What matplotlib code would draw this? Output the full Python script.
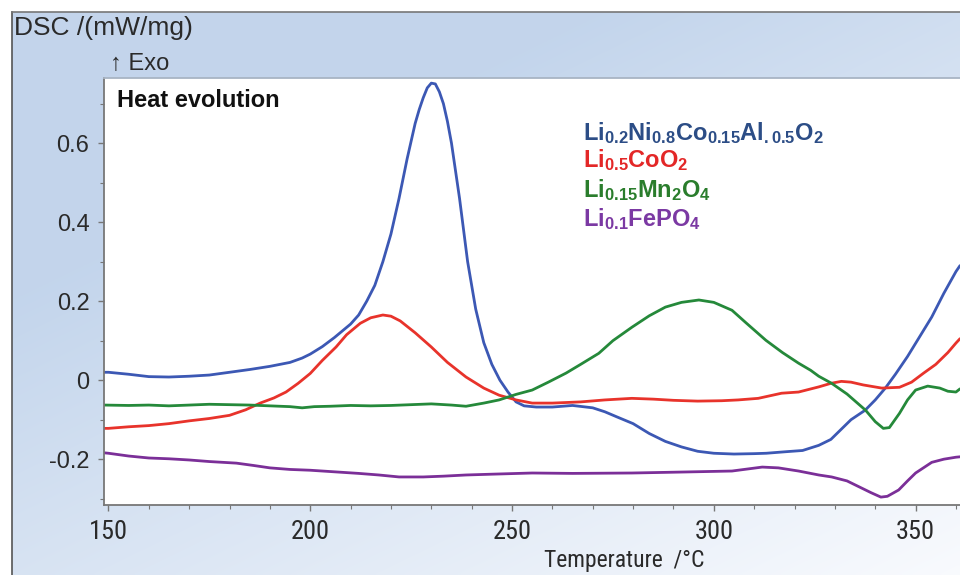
import numpy as np
import matplotlib
matplotlib.use("Agg")
import matplotlib.pyplot as plt
from matplotlib import font_manager
from matplotlib.ticker import MultipleLocator, FuncFormatter
from matplotlib.lines import Line2D

# ---------------- data ----------------
t_nca = [149, 150, 155, 160, 165, 170, 175, 180, 185, 190, 195, 198, 200, 203, 206, 208,
         210, 212, 214, 216, 218, 220, 222, 224, 226, 227, 228, 229, 230, 231, 232, 233,
         234, 235, 236, 237, 239, 241, 243, 245, 247, 249, 251, 253, 256, 260, 265, 270,
         273, 276, 280, 284, 288, 292, 296, 300, 305, 310, 313, 318, 322, 326, 329, 331,
         334, 337.5, 340, 342.5, 345, 348, 351, 354, 357, 360, 361]
v_nca = [0.02, 0.02, 0.015, 0.009, 0.008, 0.010, 0.013, 0.020, 0.027, 0.035, 0.045, 0.056,
         0.066, 0.085, 0.108, 0.125, 0.142, 0.165, 0.200, 0.240, 0.300, 0.370, 0.460, 0.560,
         0.650, 0.685, 0.715, 0.740, 0.752, 0.750, 0.730, 0.700, 0.655, 0.600, 0.530,
         0.460, 0.300, 0.180, 0.095, 0.040, 0.000, -0.030, -0.055, -0.065, -0.068, -0.068,
         -0.064, -0.070, -0.080, -0.093, -0.110, -0.135, -0.155, -0.169, -0.180, -0.185,
         -0.187, -0.186, -0.185, -0.181, -0.178, -0.165, -0.150, -0.130, -0.100, -0.076,
         -0.050, -0.020, 0.015, 0.060, 0.110, 0.160, 0.220, 0.275, 0.290]

t_lco = [149, 150, 155, 160, 165, 170, 175, 180, 184, 187.6, 191, 194, 197, 200, 203,
         206.4, 209, 212.4, 215, 218, 220, 222.3, 226, 230, 234, 238.6, 243, 246.8, 251,
         255, 260, 267, 273, 279.7, 285, 290, 296, 302, 306, 311, 316.8, 321, 326, 329,
         331.6, 334, 337, 341.6, 346, 349, 352, 355, 358, 360, 361]
v_lco = [-0.122, -0.122, -0.118, -0.115, -0.110, -0.103, -0.097, -0.089, -0.075, -0.058,
         -0.045, -0.030, -0.008, 0.017, 0.050, 0.084, 0.115, 0.144, 0.158, 0.165, 0.162,
         0.150, 0.120, 0.084, 0.045, 0.008, -0.020, -0.038, -0.050, -0.058, -0.058, -0.055,
         -0.050, -0.046, -0.048, -0.051, -0.053, -0.052, -0.050, -0.046, -0.033, -0.030,
         -0.017, -0.008, -0.003, -0.005, -0.012, -0.020, -0.018, -0.005, 0.018, 0.040,
         0.070, 0.094, 0.105]

t_lmo = [149, 155, 160, 165, 170, 175, 180, 185, 190, 195, 198, 201, 205, 210, 215, 220,
         225, 230, 235, 238.6, 243, 246.8, 251, 255, 259, 263.4, 267, 271.5, 275, 279.7,
         284, 288, 292, 296.3, 300, 304.5, 308, 312.9, 317, 321, 324, 326, 329.2, 333,
         337.6, 340, 342, 343.5, 346, 348, 350, 353, 356, 358, 360, 361]
v_lmo = [-0.063, -0.064, -0.063, -0.065, -0.063, -0.061, -0.062, -0.063, -0.065, -0.067,
         -0.070, -0.067, -0.066, -0.064, -0.065, -0.064, -0.062, -0.060, -0.063, -0.066,
         -0.058, -0.050, -0.036, -0.025, -0.005, 0.018, 0.040, 0.068, 0.100, 0.134, 0.163,
         0.185, 0.197, 0.203, 0.197, 0.177, 0.145, 0.101, 0.070, 0.043, 0.025, 0.010,
         -0.008, -0.035, -0.076, -0.105, -0.122, -0.120, -0.084, -0.050, -0.025, -0.015,
         -0.020, -0.028, -0.030, -0.022]

t_lfp = [149, 150, 155, 160, 165, 170, 175, 181.7, 186, 190, 195, 200, 206, 212, 217, 222,
         228, 233, 238.6, 245, 255, 265, 279.7, 290, 304.5, 309, 312, 316, 321, 326, 329.2,
         333, 336, 339, 341.4, 343, 345.8, 348, 350, 354, 357, 360, 361]
v_lfp = [-0.184, -0.185, -0.192, -0.197, -0.199, -0.202, -0.206, -0.210, -0.216, -0.222,
         -0.226, -0.228, -0.232, -0.236, -0.240, -0.245, -0.245, -0.243, -0.240, -0.238,
         -0.235, -0.236, -0.235, -0.233, -0.230, -0.224, -0.220, -0.222, -0.230, -0.240,
         -0.245, -0.255, -0.270, -0.285, -0.296, -0.294, -0.278, -0.255, -0.235, -0.208,
         -0.200, -0.195, -0.194]

labels = [r"$\mathbf{Li_{0.2}Ni_{0.8}Co_{0.15}Al_{.0.5}O_2}$",
          r"$\mathbf{Li_{0.5}CoO_2}$",
          r"$\mathbf{Li_{0.15}Mn_2O_4}$",
          r"$\mathbf{Li_{0.1}FePO_4}$"]
x_ticks = [150, 200, 250, 300, 350]
y_ticks = [-0.2, 0, 0.2, 0.4, 0.6]

# ---------------- fonts ----------------
available = {f.name for f in font_manager.fontManager.ttflist}
def pick(*names):
    for n in names:
        if n in available:
            return n
    return "DejaVu Sans"
SANS = pick("Liberation Sans", "Arimo", "DejaVu Sans")
NARROW = pick("Liberation Sans Narrow", "Arimo Narrow", "DejaVu Sans Condensed", "Roboto Condensed", SANS)
plt.rcParams["font.family"] = [SANS, "DejaVu Sans"]
plt.rcParams["axes.unicode_minus"] = False
plt.rcParams["mathtext.fontset"] = "custom"
plt.rcParams["mathtext.rm"] = SANS
plt.rcParams["mathtext.bf"] = SANS + ":bold"
plt.rcParams["mathtext.it"] = SANS + ":italic"

W, H = 960, 575
fig = plt.figure(figsize=(W / 100, H / 100), dpi=100)
fig.patch.set_facecolor("white")

# background gradient panel
bg = fig.add_axes([12 / W, 0, 1 - 12 / W, 1 - 12 / H], zorder=-10)
ny, nx = 200, 300
yy, xx = np.mgrid[0:1:ny * 1j, 0:1:nx * 1j]
tt = np.clip((0.55 * yy + 0.45 * xx - 0.28) / 0.72, 0, 1)
c0 = np.array([0.765, 0.835, 0.925])
c1 = np.array([0.975, 0.982, 0.995])
img = c0[None, None, :] * (1 - tt[..., None]) + c1[None, None, :] * tt[..., None]
bg.imshow(img, aspect="auto", extent=[0, 1, 1, 0], interpolation="bilinear")
bg.set_xlim(0, 1)
bg.set_ylim(1, 0)
bg.axis("off")
fig.add_artist(Line2D([12 / W, 12 / W], [0, 1 - 12 / H], transform=fig.transFigure, color="#555555", lw=1.2))
fig.add_artist(Line2D([12 / W, 1], [1 - 12 / H, 1 - 12 / H], transform=fig.transFigure, color="#777777", lw=1.2))

# main axes
ax = fig.add_axes([104 / W, (H - 505) / H, (W - 104) / W, (505 - 78) / H])
ax.set_facecolor("white")

line_cols = ["#3c58b4", "#e8332b", "#25893a", "#7b2f98"]
text_cols = ["#2c4d86", "#e32727", "#2a7d2c", "#7b39a3"]
for (t, v), c in zip([(t_nca, v_nca), (t_lco, v_lco), (t_lmo, v_lmo), (t_lfp, v_lfp)], line_cols):
    ax.plot(t, v, color=c, lw=2.0, solid_joinstyle="round", solid_capstyle="round")

ax.set_xlim(148.9, 361.0)
ax.set_ylim(-0.316, 0.765)
ax.set_xticks(x_ticks)
ax.set_yticks(y_ticks)
ax.xaxis.set_minor_locator(MultipleLocator(10))
ax.yaxis.set_minor_locator(MultipleLocator(0.1))
ax.yaxis.set_major_formatter(FuncFormatter(lambda v, p: "0" if abs(v) < 1e-9 else f"{v:g}"))
ax.tick_params(which="both", direction="out", colors="#777777", labelcolor="#2a2a2a")
ax.tick_params(which="major", length=4.5, width=1)
ax.tick_params(which="minor", length=3, width=0.8)
ax.tick_params(axis="y", labelsize=17, pad=6)
ax.tick_params(axis="x", labelsize=19, pad=6)
for lab in ax.get_xticklabels():
    lab.set_family(NARROW)
ax.tick_params(top=False, right=False)
for s in ["left", "bottom"]:
    ax.spines[s].set_color("#777777")
    ax.spines[s].set_linewidth(1.3)
ax.spines["top"].set_color("#a8b4c4")
ax.spines["top"].set_linewidth(1.3)
ax.spines["right"].set_visible(False)

# texts
fig.text(14 / W, 1 - 35 / H, "DSC /(mW/mg)", fontsize=19, color="#2a2a2a", va="baseline", ha="left")
fig.text(110 / W, 1 - 70 / H, "\u2191 Exo", fontsize=17, color="#2a2a2a", va="baseline", ha="left")
fig.text(624 / W, 1 - 567 / H, "Temperature  /\u00b0C", fontsize=17, color="#2a2a2a",
         va="baseline", ha="center", family=NARROW)
ax.text((117 - 104) / (W - 104), (505 - 107) / (505 - 78), "Heat evolution",
        transform=ax.transAxes, fontsize=17, fontweight="bold", color="#111111", va="baseline", ha="left")

bases = [140, 167, 197, 226]
for lab, col, b in zip(labels, text_cols, bases):
    ax.text((583 - 104) / (W - 104), (505 - b) / (505 - 78), lab, transform=ax.transAxes,
            fontsize=17, color=col, va="baseline", ha="left")

fig.savefig("out.png", dpi=100)
